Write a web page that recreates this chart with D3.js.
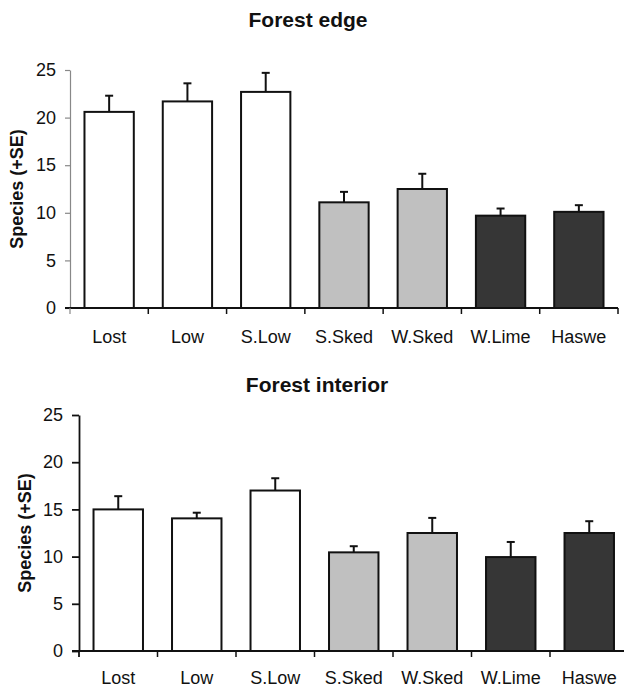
<!DOCTYPE html>
<html>
<head>
<meta charset="utf-8">
<script src="https://cdn.jsdelivr.net/npm/d3@7"></script>
<style>
  body { margin: 0; background: #fff; }
  text { font-family: "Liberation Sans", Arial, sans-serif; fill: #111; }
</style>
</head>
<body>
<div class="canvas"></div>
<script>
// data
const categories = ['Lost', 'Low', 'S.Low', 'S.Sked', 'W.Sked', 'W.Lime', 'Haswe'];
const habitat = ['open', 'open', 'open', 'mid', 'mid', 'dark', 'dark'];
const edgeMean = [20.6, 21.7, 22.7, 11.1, 12.5, 9.7, 10.1];
const edgeSE = [1.7, 1.9, 2.0, 1.1, 1.6, 0.75, 0.7];
const interiorMean = [15.0, 14.05, 17.0, 10.45, 12.5, 9.95, 12.5];
const interiorSE = [1.4, 0.6, 1.3, 0.65, 1.6, 1.6, 1.25];
const yTicks = [0, 5, 10, 15, 20, 25];

const color = d3.scaleOrdinal()
    .domain(['open', 'mid', 'dark'])
    .range(['#ffffff', '#c0c0c0', '#363636']);

const svg = d3.select('.canvas')
    .append('svg')
    .attr('width', 624)
    .attr('height', 689);

const panel = (opts) => {

    const data = categories.map((c, i) => ({
        name: c, mean: opts.mean[i], se: opts.se[i], group: habitat[i]
    }));

    const x = d3.scaleBand()
        .domain(categories)
        .range([opts.left, opts.right])
        .paddingInner(0.37)
        .paddingOuter(0.185);

    const y = d3.scaleLinear()
        .domain([0, 25])
        .range([opts.bottom, opts.top]);

    const g = svg.append('g');

    // title
    g.append('text')
        .attr('x', opts.titleX)
        .attr('y', opts.titleY)
        .attr('text-anchor', 'middle')
        .style('font-size', '21px')
        .style('font-weight', 'bold')
        .text(opts.title);

    // y label
    g.append('text')
        .attr('transform', `translate(${opts.labelX}, ${(opts.top + opts.bottom) / 2}) rotate(-90)`)
        .attr('text-anchor', 'middle')
        .style('font-size', '18px')
        .style('font-weight', 'bold')
        .text('Species (+SE)');

    // y axis
    const yAxis = g.append('g')
        .attr('transform', `translate(${opts.left}, 0)`)
        .call(d3.axisLeft(y).tickValues(yTicks).tickSize(opts.tick).tickSizeOuter(0).tickPadding(9));
    yAxis.selectAll('path, line').attr('stroke', opts.yColor).attr('stroke-width', opts.yWidth);
    yAxis.selectAll('text').style('font-size', '18px').attr('fill', '#111');

    // x axis line + boundary ticks
    g.append('line')
        .attr('x1', opts.left - opts.tick).attr('x2', opts.right)
        .attr('y1', y(0)).attr('y2', y(0))
        .attr('stroke', '#111').attr('stroke-width', 2);

    const bounds = d3.range(categories.length + 1).map(i => opts.left + i * x.step());
    g.selectAll('.xtick')
        .data(bounds)
        .enter().append('line')
        .attr('x1', d => d).attr('x2', d => d)
        .attr('y1', y(0)).attr('y2', y(0) + 6)
        .attr('stroke', (d, i) => i === 0 ? opts.yColor : '#111')
        .attr('stroke-width', (d, i) => i === 0 ? opts.yWidth : 1.5);

    // x labels
    const xAxis = g.append('g')
        .attr('transform', `translate(0, ${y(0)})`)
        .call(d3.axisBottom(x).tickSize(0).tickPadding(opts.xPad));
    xAxis.select('.domain').remove();
    xAxis.selectAll('text').style('font-size', '18px').attr('fill', '#111');

    // bars
    g.selectAll('rect')
        .data(data)
        .enter().append('rect')
        .attr('x', d => x(d.name))
        .attr('y', d => y(d.mean))
        .attr('width', x.bandwidth())
        .attr('height', d => y(0) - y(d.mean))
        .attr('fill', d => color(d.group))
        .attr('stroke', '#111')
        .attr('stroke-width', 2);

    // error bars (+SE only)
    const err = g.selectAll('.err')
        .data(data)
        .enter().append('g');
    err.append('line')
        .attr('x1', d => x(d.name) + x.bandwidth() / 2)
        .attr('x2', d => x(d.name) + x.bandwidth() / 2)
        .attr('y1', d => y(d.mean))
        .attr('y2', d => y(d.mean + d.se))
        .attr('stroke', '#111').attr('stroke-width', 2);
    err.append('line')
        .attr('x1', d => x(d.name) + x.bandwidth() / 2 - 4)
        .attr('x2', d => x(d.name) + x.bandwidth() / 2 + 4)
        .attr('y1', d => y(d.mean + d.se))
        .attr('y2', d => y(d.mean + d.se))
        .attr('stroke', '#111').attr('stroke-width', 2);
};

panel({
    title: 'Forest edge', titleX: 308, titleY: 27,
    mean: edgeMean, se: edgeSE,
    left: 70, right: 618, top: 70, bottom: 308,
    labelX: 23, tick: 5, xPad: 22,
    yColor: '#888', yWidth: 1.2
});

panel({
    title: 'Forest interior', titleX: 317, titleY: 392,
    mean: interiorMean, se: interiorSE,
    left: 79, right: 628.5, top: 415, bottom: 651,
    labelX: 31, tick: 7, xPad: 20,
    yColor: '#111', yWidth: 1.8
});
</script>
</body>
</html>
